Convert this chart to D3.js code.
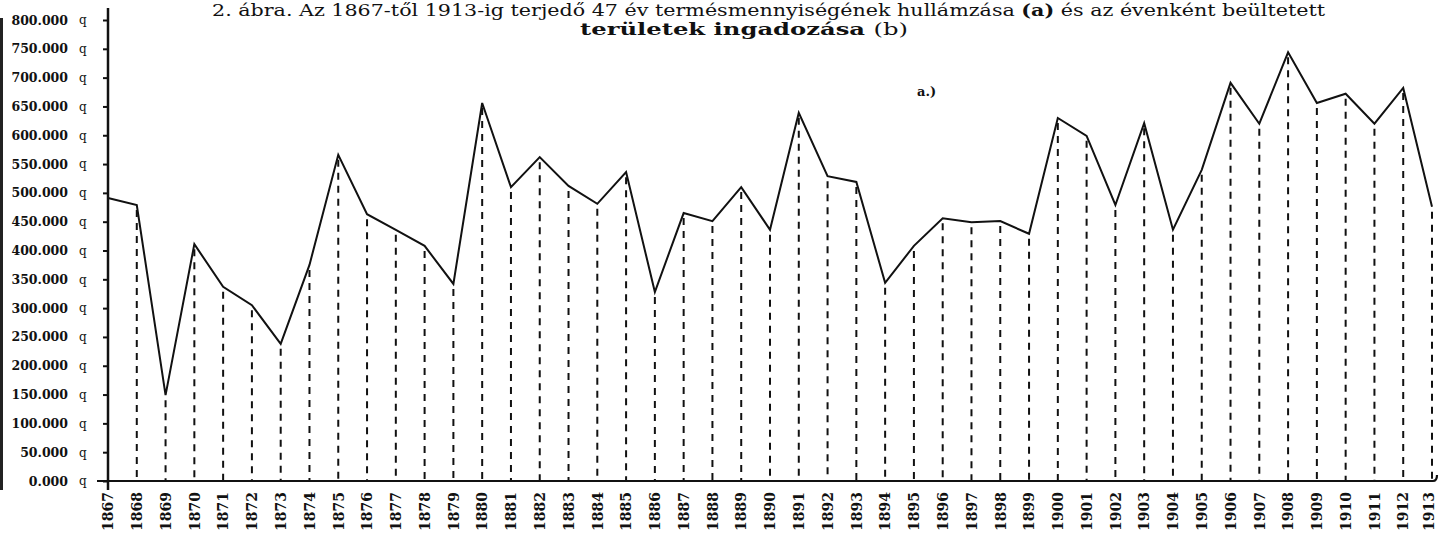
<!DOCTYPE html>
<html lang="hu">
<head>
<meta charset="utf-8">
<title>2. ábra – termésmennyiség hullámzása</title>
<script src="https://cdn.jsdelivr.net/npm/d3@7"></script>
<style>
  body { margin: 0; background: #fff; }
  svg { display: block; font-family: "DejaVu Serif", "Liberation Serif", serif; }
</style>
</head>
<body>
<script>
var w = 1439, h = 535;

// years 1867-1913
var years = [1867, 1868, 1869, 1870, 1871, 1872, 1873, 1874, 1875, 1876,
             1877, 1878, 1879, 1880, 1881, 1882, 1883, 1884, 1885, 1886,
             1887, 1888, 1889, 1890, 1891, 1892, 1893, 1894, 1895, 1896,
             1897, 1898, 1899, 1900, 1901, 1902, 1903, 1904, 1905, 1906,
             1907, 1908, 1909, 1910, 1911, 1912, 1913];

// termésmennyiség (q)
var harvest = [491000, 479000, 149000, 411000, 337000, 305000, 238000, 375000, 566000, 463000,
               436000, 408000, 342000, 656000, 510000, 562000, 512000, 481000, 536000, 328000,
               465000, 451000, 510000, 436000, 639000, 529000, 519000, 344000, 408000, 456000,
               449000, 451000, 429000, 630000, 599000, 479000, 621000, 436000, 540000, 691000,
               620000, 744000, 656000, 672000, 620000, 682000, 476000];

var yTicks = [0, 50000, 100000, 150000, 200000, 250000, 300000, 350000, 400000,
              450000, 500000, 550000, 600000, 650000, 700000, 750000, 800000];
var yTickLabels = ["0.000", "50.000", "100.000", "150.000", "200.000", "250.000",
                   "300.000", "350.000", "400.000", "450.000", "500.000", "550.000",
                   "600.000", "650.000", "700.000", "750.000", "800.000"];

var xScale = d3.scalePoint().domain(years).range([108, 1432]);
var yScale = d3.scaleLinear().domain([0, 800000]).range([481, 20]);

var svg = d3.select("body").append("svg")
    .attr("width", w)
    .attr("height", h);

svg.append("rect").attr("width", w).attr("height", h).attr("fill", "#fff");

// scan edge on the left
svg.append("line")
    .attr("x1", 1.5).attr("x2", 1.5)
    .attr("y1", 18).attr("y2", 490)
    .attr("stroke", "#222").attr("stroke-width", 3);

// title
var title = svg.append("g").attr("fill", "#111");
var t1 = title.append("text")
    .attr("x", 212).attr("y", 16)
    .attr("font-size", "16px")
    .attr("textLength", 1113)
    .attr("lengthAdjust", "spacingAndGlyphs");
t1.append("tspan").text("2. ábra. Az 1867-től 1913-ig terjedő 47 év termésmennyiségének hullámzása ");
t1.append("tspan").attr("font-weight", "bold").text("(a)");
t1.append("tspan").text(" és az évenként beültetett");

var t2 = title.append("text")
    .attr("x", 580).attr("y", 35)
    .attr("font-size", "17px")
    .attr("textLength", 328)
    .attr("lengthAdjust", "spacingAndGlyphs");
t2.append("tspan").attr("font-weight", "bold").text("területek ingadozása ");
t2.append("tspan").text("(b)");

// dashed verticals
svg.selectAll("line.drop")
    .data(years.slice(1))
    .enter()
    .append("line")
    .attr("class", "drop")
    .attr("x1", function (d) { return xScale(d); })
    .attr("x2", function (d) { return xScale(d); })
    .attr("y1", function (d) { return yScale(harvest[years.indexOf(d)]) + 5; })
    .attr("y2", yScale(0))
    .attr("stroke", "#111")
    .attr("stroke-width", 2)
    .attr("stroke-dasharray", "7,6");

// the curve
var line = d3.line()
    .x(function (d, i) { return xScale(years[i]); })
    .y(function (d) { return yScale(d); });

svg.append("path")
    .datum(harvest)
    .attr("d", line)
    .attr("fill", "none")
    .attr("stroke", "#111")
    .attr("stroke-width", 2)
    .attr("stroke-linejoin", "miter");

// y axis
var yAxis = svg.append("g")
    .attr("transform", "translate(108,0)")
    .call(d3.axisLeft(yScale)
        .tickValues(yTicks)
        .tickSize(5)
        .tickFormat(function (d, i) { return yTickLabels[i]; }));
yAxis.select(".domain").remove();
yAxis.selectAll(".tick line").attr("stroke", "#111").attr("stroke-width", 2);
yAxis.selectAll(".tick text")
    .attr("x", -40)
    .attr("font-size", "12.5px")
    .attr("font-weight", "bold")
    .attr("font-family", "DejaVu Serif, serif")
    .attr("fill", "#111");
yAxis.selectAll(".tick").append("text")
    .attr("x", -29)
    .attr("dy", "0.32em")
    .attr("font-size", "12px")
    .attr("font-family", "DejaVu Serif, serif")
    .attr("fill", "#111")
    .attr("text-anchor", "start")
    .text("q");

// x axis
var xAxis = svg.append("g")
    .attr("transform", "translate(0,481)")
    .call(d3.axisBottom(xScale).tickSize(0));
xAxis.select(".domain").remove();
xAxis.selectAll(".tick text")
    .attr("transform", "rotate(-90)")
    .attr("x", -11)
    .attr("y", 0)
    .attr("dy", function (d) { return d === 1913 ? "0.1em" : "0.34em"; })
    .attr("text-anchor", "end")
    .attr("font-size", "14px")
    .attr("font-weight", "bold")
    .attr("font-family", "DejaVu Serif, serif")
    .attr("fill", "#111");

// axis lines
svg.append("line")
    .attr("x1", 108).attr("x2", 108)
    .attr("y1", 8).attr("y2", 490)
    .attr("stroke", "#111").attr("stroke-width", 2.5);
svg.append("path")
    .attr("d", "M97,481 H1433 q4,0 4,-6")
    .attr("fill", "none")
    .attr("stroke", "#111").attr("stroke-width", 2.2);

// label of the curve
svg.append("text")
    .attr("x", 917).attr("y", 96)
    .attr("font-size", "13px")
    .attr("font-weight", "bold")
    .attr("fill", "#111")
    .text("a.)");
</script>
</body>
</html>
